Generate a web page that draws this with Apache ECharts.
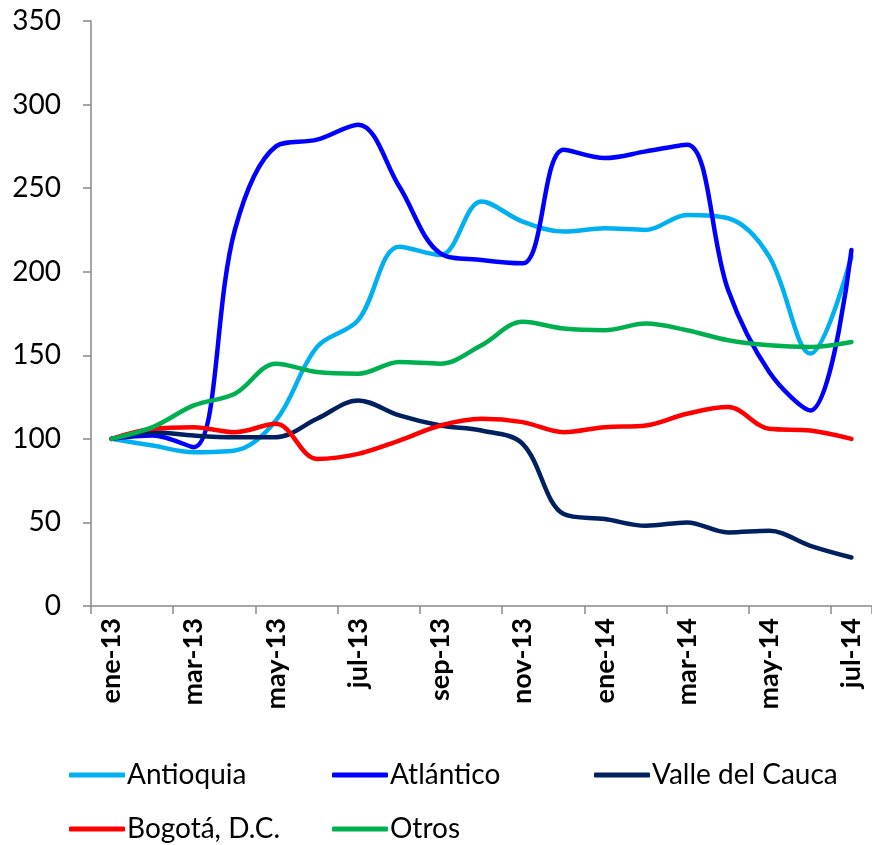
<!DOCTYPE html>
<html>
<head>
<meta charset="utf-8">
<script src="https://cdn.jsdelivr.net/npm/echarts@6/dist/echarts.min.js"></script>
<style>
  html, body { margin: 0; padding: 0; background: #fff; }
  #chart { width: 872px; height: 845px; }
</style>
</head>
<body>
<div id="chart"></div>
<script>
// meses (eje x)
var months = ['ene-13', 'feb-13', 'mar-13', 'abr-13', 'may-13', 'jun-13', 'jul-13', 'ago-13', 'sep-13', 'oct-13',
  'nov-13', 'dic-13', 'ene-14', 'feb-14', 'mar-14', 'abr-14', 'may-14', 'jun-14', 'jul-14']

// índices por departamento (ene-13 = 100)
var antioquia = [100, 96, 92, 93, 111, 155, 171, 215, 210, 242, 230, 224, 226, 225, 234, 232, 209, 151, 209]
var atlantico = [100, 102, 95, 225, 275, 279, 288, 251, 211, 207, 205, 273, 268, 272, 276, 189, 140, 117, 213]
var valle = [100, 104, 102, 101, 101, 112, 123, 114, 108, 105, 97, 55, 52, 48, 50, 44, 45, 36, 29]
var bogota = [100, 106, 107, 104, 109, 88, 91, 99, 108, 112, 110, 104, 107, 108, 115, 119, 106, 105, 100]
var otros = [100, 107, 120, 127, 145, 140, 139, 146, 145, 156, 170, 166, 165, 169, 165, 159, 156, 155, 158]

var yTicks = [0, 50, 100, 150, 200, 250, 300, 350]

var chart = echarts.init(document.getElementById('chart'))
var font = 'Lato, "Liberation Sans", sans-serif'

function serie (name, color, data) {
  return {
    name: name,
    type: 'line',
    data: data,
    smooth: 0.35,
    showSymbol: false,
    symbol: 'none',
    color: color,
    lineStyle: { width: 4.5, color: color, cap: 'round', join: 'round' }
  }
}

function leyenda (name, left, top) {
  return {
    data: [name],
    left: left,
    top: top,
    icon: 'roundRect',
    itemWidth: 56,
    itemHeight: 5,
    selectedMode: false,
    textStyle: { fontFamily: font, fontSize: 28, color: '#000', padding: [0, 0, 0, -3] }
  }
}

var option = {
  animation: false,
  backgroundColor: '#fff',
  grid: { left: 91, top: 21, width: 782, height: 585 },
  legend: [
    leyenda('Antioquia', 64, 756),
    leyenda('Atlántico', 327, 756),
    leyenda('Valle del Cauca', 589, 756),
    leyenda('Bogotá, D.C.', 64, 810),
    leyenda('Otros', 327, 810)
  ],
  xAxis: {
    type: 'category',
    data: months,
    boundaryGap: true,
    axisLine: { lineStyle: { color: '#898989', width: 1.5 } },
    axisTick: { show: true, interval: 1, length: 8, lineStyle: { color: '#898989', width: 1.5 } },
    axisLabel: {
      interval: 1,
      rotate: 90,
      margin: 12,
      fontFamily: font,
      fontSize: 27,
      fontWeight: 'bold',
      color: '#000'
    },
    splitLine: { show: false }
  },
  yAxis: {
    type: 'value',
    min: yTicks[0],
    max: yTicks[yTicks.length - 1],
    interval: 50,
    axisLine: { show: true, lineStyle: { color: '#898989', width: 1.5 } },
    axisTick: { show: true, length: 8, lineStyle: { color: '#898989', width: 1.5 } },
    axisLabel: { margin: 30, fontFamily: font, fontSize: 28, color: '#000' },
    splitLine: { show: false }
  },
  series: [
    serie('Antioquia', '#00B0F0', antioquia),
    serie('Atlántico', '#0000FF', atlantico),
    serie('Valle del Cauca', '#002060', valle),
    serie('Bogotá, D.C.', '#FF0000', bogota),
    serie('Otros', '#00B050', otros)
  ]
}
chart.setOption(option)
</script>
</body>
</html>
